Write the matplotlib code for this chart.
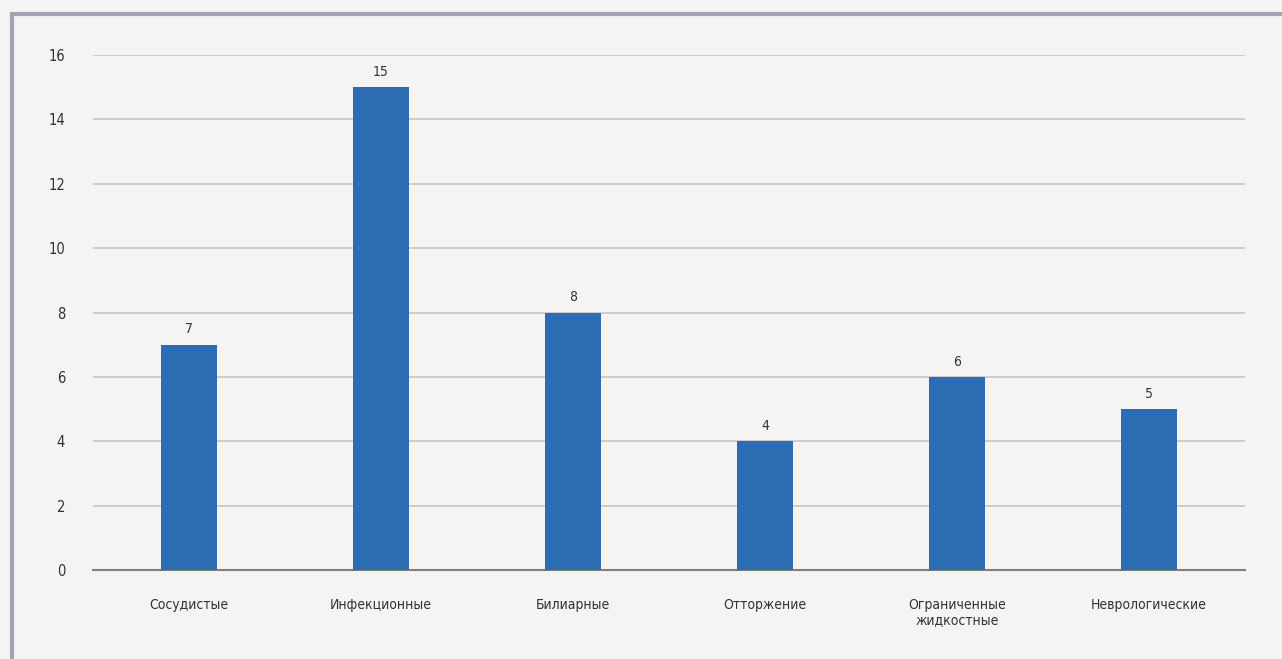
import matplotlib.pyplot as plt
from matplotlib.patches import Rectangle

categories = ['Сосудистые', 'Инфекционные', 'Билиарные', 'Отторжение',
              'Ограниченные\nжидкостные', 'Неврологические']
counts = [7, 15, 8, 4, 6, 5]
y_ticks = [0, 2, 4, 6, 8, 10, 12, 14, 16]

plt.rcParams['font.family'] = ['DejaVu Sans']
plt.rcParams['font.stretch'] = 'condensed'

fig = plt.figure(figsize=(12.82, 6.59), dpi=100)
fig.patch.set_facecolor('#f5f4f2')

# page frame around the chart
fig.patches.append(Rectangle((0.009, -0.05), 1.1, 1.029, transform=fig.transFigure,
                             fill=False, edgecolor='#a4a4b4', linewidth=3, zorder=0))

ax = fig.add_axes([0.0725, 0.135, 0.8985, 0.7815])
ax.set_facecolor('#f5f4f2')

x = list(range(len(categories)))
bars = ax.bar(x, counts, width=0.29, color='#2c6db3', zorder=3)
ax.bar_label(bars, labels=[str(c) for c in counts], padding=6,
             fontsize=10, color='#333333')

ax.set_xlim(-0.5, len(categories) - 0.5)
ax.set_ylim(0, 16)
ax.set_yticks(y_ticks)
ax.set_xticks(x)
ax.set_xticklabels(categories, fontsize=10, color='#333333', linespacing=1.15)
ax.tick_params(axis='y', length=0, pad=20, labelsize=10.5, labelcolor='#333333')
ax.tick_params(axis='x', length=0, pad=20)

ax.grid(axis='y', color='#c6c6c6', linewidth=1.2, zorder=0)
for side in ['top', 'right', 'left']:
    ax.spines[side].set_visible(False)
ax.spines['bottom'].set_color('#808080')
ax.spines['bottom'].set_linewidth(1.5)

fig.savefig('out.png', dpi=100, facecolor=fig.get_facecolor())
